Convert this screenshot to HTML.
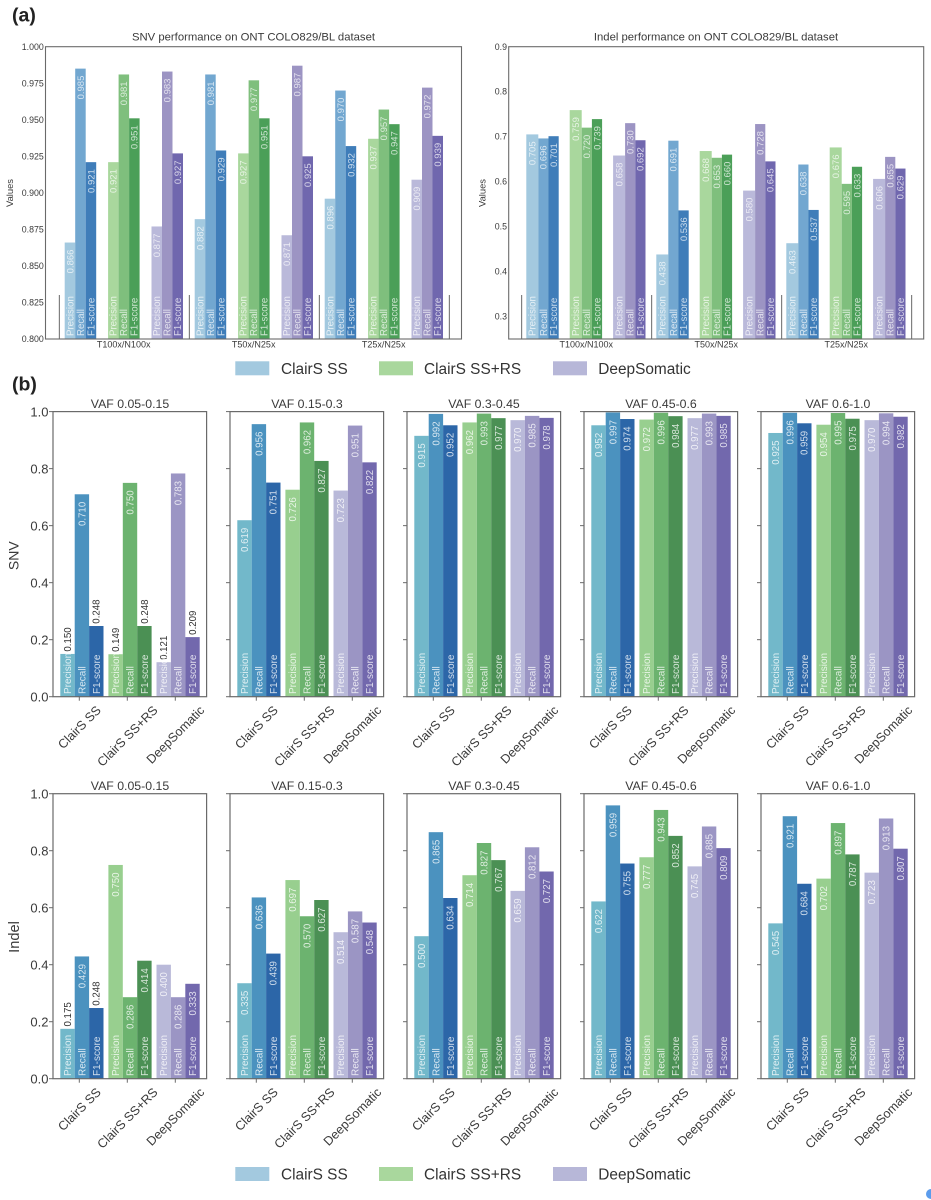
<!DOCTYPE html>
<html lang="en">
<head>
<meta charset="utf-8">
<title>ClairS SS benchmark charts</title>
<style>
html,body{margin:0;padding:0;background:#fff;}
svg{display:block;font-family:"Liberation Sans",Arial,sans-serif;filter:blur(0.3px);}
</style>
</head>
<body>
<svg id="figure" xmlns="http://www.w3.org/2000/svg" width="931" height="1200" viewBox="0 0 931 1200">
  <rect x="0" y="0" width="931" height="1200" fill="#fff"/>
  <text x="12" y="21.5" font-size="19.5" font-weight="bold" fill="#222">(a)</text>
  <text x="12" y="390.5" font-size="19.5" font-weight="bold" fill="#222">(b)</text>
  <circle cx="931" cy="1194" r="5" fill="#5b9cec"/>
</svg>
<script>
const methods = ["ClairS SS", "ClairS SS+RS", "DeepSomatic"];
const metrics = ["Precision", "Recall", "F1-score"];
const coverages = ["T100x/N100x", "T50x/N25x", "T25x/N25x"];
const vafBins = ["VAF 0.05-0.15", "VAF 0.15-0.3", "VAF 0.3-0.45", "VAF 0.45-0.6", "VAF 0.6-1.0"];

const ontSnvTicks = [0.800, 0.825, 0.850, 0.875, 0.900, 0.925, 0.950, 0.975, 1.000];
const ontIndelTicks = [0.3, 0.4, 0.5, 0.6, 0.7, 0.8, 0.9];
const vafTicks = [0.0, 0.2, 0.4, 0.6, 0.8, 1.0];

const ontSnvValues = [
  [[0.866, 0.985, 0.921], [0.921, 0.981, 0.951], [0.877, 0.983, 0.927]],
  [[0.882, 0.981, 0.929], [0.927, 0.977, 0.951], [0.871, 0.987, 0.925]],
  [[0.896, 0.970, 0.932], [0.937, 0.957, 0.947], [0.909, 0.972, 0.939]]
];
const ontIndelValues = [
  [[0.705, 0.696, 0.701], [0.759, 0.720, 0.739], [0.658, 0.730, 0.692]],
  [[0.438, 0.691, 0.536], [0.668, 0.653, 0.660], [0.580, 0.728, 0.645]],
  [[0.463, 0.638, 0.537], [0.676, 0.595, 0.633], [0.606, 0.655, 0.629]]
];
const vafSnvValues = [
  [[0.150, 0.710, 0.248], [0.149, 0.750, 0.248], [0.121, 0.783, 0.209]],
  [[0.619, 0.956, 0.751], [0.726, 0.962, 0.827], [0.723, 0.951, 0.822]],
  [[0.915, 0.992, 0.952], [0.962, 0.993, 0.977], [0.970, 0.985, 0.978]],
  [[0.952, 0.997, 0.974], [0.972, 0.996, 0.984], [0.977, 0.993, 0.985]],
  [[0.925, 0.996, 0.959], [0.954, 0.995, 0.975], [0.970, 0.994, 0.982]]
];
const vafIndelValues = [
  [[0.175, 0.429, 0.248], [0.750, 0.286, 0.414], [0.400, 0.286, 0.333]],
  [[0.335, 0.636, 0.439], [0.697, 0.570, 0.627], [0.514, 0.587, 0.548]],
  [[0.500, 0.865, 0.634], [0.714, 0.827, 0.767], [0.659, 0.812, 0.727]],
  [[0.622, 0.959, 0.755], [0.777, 0.943, 0.852], [0.745, 0.885, 0.809]],
  [[0.545, 0.921, 0.684], [0.702, 0.897, 0.787], [0.723, 0.913, 0.807]]
];

const svg = document.getElementById('figure');
const NS = 'http://www.w3.org/2000/svg';
const INK = '#3a3a3a';
const FRAME = '#6a6a6a';
const ontColors = [['#a3c9df', '#72a7d0', '#3f7db9'], ['#a9d79d', '#7fbf7d', '#4b9f58'], ['#bab9da', '#9c94c3', '#7067ae']];
const vafColors = [['#72b8ca', '#4b92bf', '#2c66a8'], ['#98cf8f', '#6cb36f', '#4b9054'], ['#b9b9d9', '#9b95c4', '#7268ad']];

function make(tag, attrs, parent, text) {
  const node = document.createElementNS(NS, tag);
  for (const k in attrs) node.setAttribute(k, attrs[k]);
  if (text !== undefined) node.textContent = text;
  parent.appendChild(node);
  return node;
}
function linearScale(d0, d1, r0, r1) {
  return v => r0 + (v - d0) / (d1 - d0) * (r1 - r0);
}
function slug(s) {
  return String(s).toLowerCase().replace(/[^a-z0-9]+/g, '-').replace(/^-|-$/g, '');
}

function drawVerticalLabel(parent, cx, y, str, size, fill, opacity, anchor, name) {
  const t = make('text', {
    x: cx, y: y, dy: '0.35em', 'font-size': size, fill: fill, 'fill-opacity': opacity,
    'text-anchor': anchor, transform: 'rotate(-90 ' + cx + ' ' + y + ')'
  }, parent, str);
  
  
  return t;
}

function drawFrame(parent, x0, y0, x1, y1, width) {
  const f = make('rect', { x: x0, y: y0, width: x1 - x0, height: y1 - y0, fill: 'none', stroke: FRAME, 'stroke-width': width }, parent);
  
  
}

function drawOntPanel(cfg) {
  const g = make('g', {}, svg);
  
  
  const y = linearScale(cfg.domain[0], cfg.domain[1], cfg.y1, cfg.y0);

  const title = make('text', { x: cfg.titleX, y: 40.7, 'font-size': 11.3, fill: INK, 'text-anchor': 'middle' }, g, cfg.title);
  
  

  const yTitle = make('text', { x: cfg.yTitleX, y: 193, dy: '0.35em', 'font-size': 9.4, fill: INK, 'text-anchor': 'middle', transform: 'rotate(-90 ' + cfg.yTitleX + ' 193)' }, g, 'Values');
  
  

  cfg.ticks.forEach(function (tick) {
    const label = make('text', { x: cfg.x0 - 1.7, y: y(tick), dy: '0.35em', 'font-size': 8.8, fill: INK, 'text-anchor': 'end' }, g, tick.toFixed(cfg.digits));
    
    
  });

  cfg.values.forEach(function (coverage, c) {
    const cx = cfg.barStart + c * 130;
    coverage.forEach(function (method, m) {
      const mx = cx + m * 43.4;
      method.forEach(function (v, k) {
        const bx = mx + cfg.offsets[k];
        const w = cfg.widths[k];
        const top = y(v);
        const bar = make('rect', { x: bx, y: top, width: w, height: cfg.y1 - top, fill: ontColors[m][k] }, g);
        
        
        const mid = bx + w / 2;
        drawVerticalLabel(g, mid, top + 7, v.toFixed(3), 9.5, '#fff', 0.72, 'end', 'bar-value-label');
        drawVerticalLabel(g, mid, cfg.y1 - 3, metrics[k], 9.7, '#fff', 0.72, 'start', 'bar-metric-label');
      });
    });
  });

  for (let s = 0; s <= coverages.length; s++) {
    const sx = cfg.sepStart + s * 130;
    const sep = make('line', { x1: sx, x2: sx, y1: 295, y2: cfg.y1, stroke: '#555', 'stroke-width': 0.9 }, g);
    
    
  }
  coverages.forEach(function (name, c) {
    const lab = make('text', { x: cfg.catStart + c * 130, y: 347.5, 'font-size': 9, fill: INK, 'text-anchor': 'middle' }, g, name);
    
    
  });
  drawFrame(g, cfg.x0, cfg.y0, cfg.x1, cfg.y1, 1.1);
}

function drawVafPanel(values, p, top, bottom, rowName) {
  const x0 = 53 + p * 177;
  const x1 = x0 + 153.6;
  const g = make('g', {}, svg);
  
  
  const y = linearScale(0, 1, bottom, top);

  const title = make('text', { x: x0 + 77, y: top - 3.6, 'font-size': 12.3, fill: INK, 'text-anchor': 'middle' }, g, vafBins[p]);
  
  

  vafTicks.forEach(function (tick) {
    const mark = make('line', { x1: x0 - 4, x2: x0, y1: y(tick), y2: y(tick), stroke: FRAME, 'stroke-width': 1 }, g);
    
    
    if (p === 0) {
      const label = make('text', { x: x0 - 4.5, y: y(tick), dy: '0.36em', 'font-size': 13, fill: INK, 'text-anchor': 'end' }, g, tick.toFixed(1));
      
      
    }
  });

  values[p].forEach(function (method, m) {
    const mx = x0 + 7.3 + m * 48.1;
    method.forEach(function (v, k) {
      const bx = mx + k * 14.4;
      const h = y(v);
      const bar = make('rect', { x: bx, y: h, width: 14.4, height: bottom - h, fill: vafColors[m][k] }, g);
      
      
      const mid = bx + 7.2;
      if (v < 0.25) {
        drawVerticalLabel(g, mid, h - 2.3, v.toFixed(3), 9.7, '#333', 1, 'start', 'bar-value-label');
      } else {
        drawVerticalLabel(g, mid, h + 7.5, v.toFixed(3), 9.7, '#fff', 0.78, 'end', 'bar-value-label');
      }
      drawVerticalLabel(g, mid, bottom - 2.7, metrics[k], 10, '#fff', 0.78, 'start', 'bar-metric-label');
    });
  });

  methods.forEach(function (name, m) {
    const tx = x0 + 26.3 + m * 48;
    const mark = make('line', { x1: tx, x2: tx, y1: bottom, y2: bottom + 4, stroke: FRAME, 'stroke-width': 1 }, g);
    
    
    const lab = make('text', { x: tx, y: bottom, 'font-size': 12.6, fill: INK, 'text-anchor': 'middle' }, g, name);
    
    
    const len = lab.getComputedTextLength();
    const cy = bottom + 7 + (len + 12) * 0.7071 / 2;
    lab.setAttribute('y', cy);
    lab.setAttribute('dy', '0.35em');
    lab.setAttribute('transform', 'rotate(-45 ' + tx + ' ' + cy + ')');
  });
  drawFrame(g, x0, top, x1, bottom, 1.2);
}

function drawLegend(swatchY, textY, name) {
  const g = make('g', {}, svg);
  
  
  const swatchX = [235.3, 379, 553];
  const textX = [281, 424, 598.3];
  const fills = ['#a3c9df', '#a9d79d', '#b7b7d8'];
  methods.forEach(function (method, i) {
    const sw = make('rect', { x: swatchX[i], y: swatchY, width: 34, height: 14, fill: fills[i] }, g);
    
    
    const tx = make('text', { x: textX[i], y: textY, 'font-size': 15.4, fill: '#333' }, g, method);
    
    
  });
}

drawOntPanel({
  name: 'snv-ont-chart', title: 'SNV performance on ONT COLO829/BL dataset', titleX: 253.5,
  x0: 45.5, x1: 461.5, y0: 46.7, y1: 339, domain: [0.8, 1.0], ticks: ontSnvTicks, digits: 3,
  values: ontSnvValues, barStart: 64.7, offsets: [0, 10.5, 21], widths: [10.5, 10.5, 10.5],
  sepStart: 59.3, catStart: 123.7, yTitleX: 9.5
});
drawOntPanel({
  name: 'indel-ont-chart', title: 'Indel performance on ONT COLO829/BL dataset', titleX: 716,
  x0: 508.7, x1: 923.7, y0: 46.7, y1: 339, domain: [0.25, 0.9], ticks: ontIndelTicks, digits: 1,
  values: ontIndelValues, barStart: 526.3, offsets: [0, 12, 22.2], widths: [12, 10.2, 10.2],
  sepStart: 521.7, catStart: 586.3, yTitleX: 482
});
drawLegend(361.3, 374, 'legend-top');

for (let p = 0; p < vafBins.length; p++) {
  drawVafPanel(vafSnvValues, p, 411.6, 696.7, 'snv');
}
for (let p = 0; p < vafBins.length; p++) {
  drawVafPanel(vafIndelValues, p, 793.7, 1078.7, 'indel');
}

const snvTitle = make('text', { x: 13.5, y: 555.7, dy: '0.35em', 'font-size': 14, fill: INK, 'text-anchor': 'middle', transform: 'rotate(-90 13.5 555.7)' }, svg, 'SNV');


const indelTitle = make('text', { x: 14, y: 937, dy: '0.35em', 'font-size': 14.6, fill: INK, 'text-anchor': 'middle', transform: 'rotate(-90 14 937)' }, svg, 'Indel');



drawLegend(1167, 1179.5, 'legend-bottom');
</script>
</body>
</html>
